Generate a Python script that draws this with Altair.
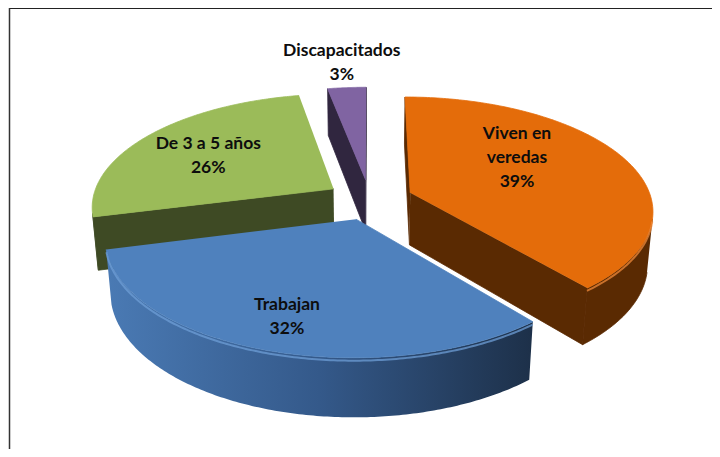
import numpy as np
import pandas as pd
import altair as alt

# ---------------- data ----------------
categories = ["Viven en veredas", "Trabajan", "De 3 a 5 años", "Discapacitados"]
label_names = ["Viven en\nveredas", "Trabajan", "De 3 a 5 años", "Discapacitados"]
percentages = [39, 32, 26, 3]

# ---------------- style ----------------
top_colors = ["#E46C0A", "#4F81BD", "#9BBB59", "#8064A2"]
side_colors = ["#5A2A02", "#2E4D78", "#3E4A24", "#30263F"]
rim_highlight = {1: "#6E9DD6", 0: "#F08A3A"}
wall_gradient = {1: ["#4A7AB4", "#34598A", "#1D3049"]}
draw_order = [3, 2, 0, 1]          # back to front
label_rho = [0.58, 0.78, 0.64, 1.32]
label_turn = [-15, 0, -3, 0]
LINE_H = 24

# 3D view of the exploded pie
VIEW_L = 6.0
FOCAL = 1448.0
ELEV = np.arcsin(0.463)
CX0, CY0 = 369.7, 199.5
EXPLODE = 0.18
DEPTH = 0.25
S, C = np.sin(ELEV), np.cos(ELEV)
CAM = np.array([0.0, VIEW_L * S, VIEW_L * C])

W, H = 704, 441


def project(X, Y, Z):
    d = VIEW_L - Y * S - Z * C
    up = Y * C - Z * S
    return CX0 + FOCAL * X / d, CY0 - FOCAL * up / d


total = float(sum(percentages))
ends = np.cumsum(percentages) / total * 360.0
starts = np.concatenate([[0.0], ends[:-1]])

rows = []
faces = []  # (name, slice index, kind)


def add_face(name, pts, k, kind):
    for j, (X, Y, Z) in enumerate(pts):
        sx, sy = project(X, Y, Z)
        rows.append({"face": name, "i": j, "x": sx, "y": sy})
    faces.append((name, k, kind))


apexes = []
for k in range(len(percentages)):
    a0, a1 = np.radians(starts[k]), np.radians(ends[k])
    mid = (a0 + a1) / 2
    ax, az = EXPLODE * np.sin(mid), -EXPLODE * np.cos(mid)
    apexes.append((ax, az, mid))
    th = np.linspace(a0, a1, 160)

    def rim(t, Y):
        return (ax + np.sin(t), Y, az - np.cos(t))

    # cut faces
    for a, sign in ((a0, -1), (a1, 1)):
        n = np.array([sign * np.cos(a), 0.0, sign * np.sin(a)])
        if n @ (CAM - np.array([ax, 0.0, az])) > 0:
            pts = [(ax, 0.0, az), rim(a, 0.0), rim(a, -DEPTH), (ax, -DEPTH, az)]
            add_face(f"cut{sign}_{k}", pts, k, "side")
    # outer wall (visible part)
    vis = []
    for t in th:
        n = np.array([np.sin(t), 0.0, -np.cos(t)])
        P = np.array(rim(t, -DEPTH / 2))
        if n @ (CAM - P) > 0:
            vis.append(t)
    if len(vis) > 1:
        pts = [rim(t, 0.0) for t in vis] + [rim(t, -DEPTH) for t in vis[::-1]]
        add_face(f"wall_{k}", pts, k, "wall")
    # top face
    pts = [(ax, 0.0, az)] + [rim(t, 0.0) for t in th]
    add_face(f"top_{k}", pts, k, "top")
    # bevel highlight along the visible front rim
    if k in rim_highlight and len(vis) > 1:
        add_face(f"rim_{k}", [rim(t, -0.012) for t in vis], k, "rim")

poly_df = pd.DataFrame(rows)

# labels (anchor = centre of the text block)
lab_rows = []
for k in range(len(percentages)):
    ax, az, mid = apexes[k]
    ang = mid + np.radians(label_turn[k])
    r = label_rho[k]
    sx, sy = project(ax + r * np.sin(ang), 0.0, az - r * np.cos(ang))
    text_value = f"{label_names[k]}\n{percentages[k]}%"
    n_lines = text_value.count("\n") + 1
    lab_rows.append({"label": text_value, "x": sx, "y": sy - (n_lines - 1) * LINE_H / 2,
                     "category": categories[k]})
label_df = pd.DataFrame(lab_rows)

xs = alt.X("x:Q", scale=alt.Scale(domain=[8, 8 + W], nice=False, zero=False), axis=None)
ys = alt.Y("y:Q", scale=alt.Scale(domain=[8, 8 + H], nice=False, zero=False, reverse=True), axis=None)

layers = []
for k in draw_order:
    for name, kk, kind in faces:
        if kk != k:
            continue
        if kind == "top":
            mk = dict(filled=True, fill=top_colors[k], stroke=top_colors[k], strokeWidth=0.8)
        elif kind == "rim":
            mk = dict(filled=False, stroke=rim_highlight[k], strokeWidth=2, opacity=0.75)
        elif kind == "wall" and k in wall_gradient:
            cols = wall_gradient[k]
            grad = alt.Gradient(
                gradient="linear",
                stops=[alt.GradientStop(color=cols[0], offset=0),
                       alt.GradientStop(color=cols[1], offset=0.5),
                       alt.GradientStop(color=cols[2], offset=1)],
                x1=0, x2=1, y1=0, y2=0)
            mk = dict(filled=True, fill=grad)
        else:
            mk = dict(filled=True, fill=side_colors[k], stroke=side_colors[k], strokeWidth=0.8)
        layers.append(
            alt.Chart()
            .transform_filter(alt.datum.face == name)
            .mark_line(**mk)
            .encode(x=xs, y=ys, order=alt.Order("i:Q"))
        )

text = alt.Chart(label_df).mark_text(
    font="Lato", fontWeight="bold", fontSize=17.5, lineHeight=LINE_H, lineBreak="\n",
    align="center", baseline="middle", color="#0d0d0d"
).encode(x=xs, y=ys, text="label:N")

frame_df = pd.DataFrame({"k": [0]})
top_rule = alt.Chart(frame_df).mark_rule(color="#222222", strokeWidth=2).encode(
    x=alt.value(1), x2=alt.value(W), y=alt.value(0))
left_rule = alt.Chart(frame_df).mark_rule(color="#333333", strokeWidth=1.5).encode(
    x=alt.value(1.5), y=alt.value(0), y2=alt.value(H))

chart = alt.layer(*layers, data=poly_df)
chart = alt.layer(chart, text, top_rule, left_rule).properties(
    width=W, height=H, autosize="none", padding=0
).configure_view(stroke=None)

chart.save("out.html", embed_options={"renderer": "svg", "actions": False})
